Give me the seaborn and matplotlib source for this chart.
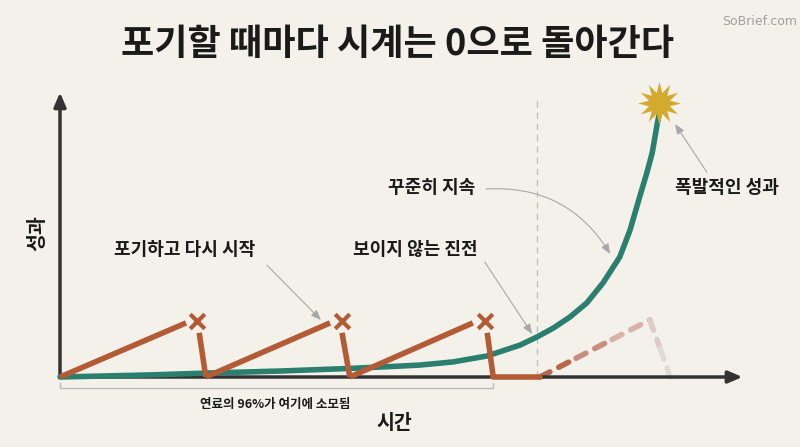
import numpy as np
import pandas as pd
import seaborn as sns
import matplotlib.pyplot as plt

# data (time units on x, performance units on y)
steady_t = [0, 1.5, 2.42, 3.67, 4.83, 5.67, 6.0, 6.55, 7.12, 7.67, 7.95, 8.22, 8.5, 8.78,
            9.05, 9.33, 9.5, 9.67, 9.78, 9.87, 9.95, 9.98]
steady_p = [0, 0.8, 1.5, 2.3, 3.3, 4.2, 4.6, 5.8, 8.1, 12.3, 15.4, 18.8, 23.1, 28.5,
            36.2, 46.2, 56.5, 70, 78.5, 86.2, 96.9, 100.5]

rise_t = [[0, 2.1], [2.43, 4.5], [4.83, 6.88]]
rise_p = [[0, 20.8], [0, 20.8], [0, 20.8]]
quit_t = [2.28, 4.7, 7.08]
quit_p = [21.5, 21.5, 21.5]
drop_t = [[2.32, 2.43], [4.7, 4.83], [7.12, 7.22]]
drop_p = [[17, 0], [17, 0], [17, 0]]
flat_t = [7.22, 8.0]
flat_p = [0, 0]
ghost_t = [8.0, 9.83, 10.17]
ghost_p = [0, 22, 0]

star_t, star_p = 9.98, 105.5
breakpoint_t = 7.95
fuel_end_t = 7.22

title = "포기할 때마다 시계는 0으로 돌아간다"
bg = "#F3F1EA"
green = "#2A7F6F"
orange = "#B35B35"
ink = "#1A1A1A"

sns.set_theme(style="white")
plt.rcParams["font.family"] = ["Noto Sans CJK KR", "DejaVu Sans"]

fig = plt.figure(figsize=(8, 4.47), dpi=100, facecolor=bg)
ax = fig.add_axes([0, 0, 1, 1])
ax.set_facecolor(bg)
ax.set_xlim(-1, 12.333)
ax.set_ylim(-26.92, 145)
ax.axis("off")

# axes with arrows
ax.annotate("", xy=(0, 110.5), xytext=(0, -0.3),
            arrowprops=dict(arrowstyle="-|>,head_length=0.7,head_width=0.3", color="#333333", lw=2.5))
ax.annotate("", xy=(11.42, 0), xytext=(-0.03, 0),
            arrowprops=dict(arrowstyle="-|>,head_length=0.7,head_width=0.3", color="#333333", lw=2.5))

# dashed divider
ax.plot([breakpoint_t, breakpoint_t], [0, 108], ls=(0, (5, 4)), color="#BDBDBD", lw=0.9, zorder=1)

# steady curve
sns.lineplot(x=steady_t, y=steady_p, sort=False, color=green, lw=4, ax=ax, zorder=3,
             solid_capstyle="round", solid_joinstyle="round")

# restart attempts
for t, p in zip(rise_t, rise_p):
    sns.lineplot(x=t, y=p, sort=False, color=orange, lw=4, ax=ax, zorder=4, solid_capstyle="butt")
for t, p in zip(drop_t, drop_p):
    sns.lineplot(x=t, y=p, sort=False, color=orange, lw=4, ax=ax, zorder=4, solid_capstyle="butt")
ax.scatter(quit_t, quit_p, marker="x", s=110, linewidths=3, color=orange, zorder=5)
sns.lineplot(x=flat_t, y=flat_p, sort=False, color=orange, lw=4, ax=ax, zorder=4)

# ghost attempt, fading
ghost_cols = ["#B7684A", "#C88E7E", "#D9B3AA", "#DCCBC6", "#E2DAD6"]
seg_t = [ghost_t[0], 8.6, 9.2, 9.83, 10.0, ghost_t[2]]
seg_p = [ghost_p[0], 7.2, 14.4, ghost_p[1], 11, ghost_p[2]]
for i in range(5):
    ax.plot(seg_t[i:i + 2], seg_p[i:i + 2], ls=(0, (2, 1.8)), color=ghost_cols[i], lw=4,
            dash_capstyle="round", zorder=2)

# star
ax.plot([star_t], [star_p], marker=(12, 1, 0), markersize=31, color="#D4AA2E", zorder=6, mew=0)

# fuel bracket
ax.plot([0, 0, fuel_end_t, fuel_end_t], [-2.3, -4.4, -4.4, -2.3], color="#BBBBBB", lw=1)
ax.text(fuel_end_t / 2 - 0.03, -10.4, "연료의 96%가 여기에 소모됨", ha="center", va="center",
        fontsize=9, fontweight="bold", color=ink)

# axis labels
ax.text(5.58, -17.9, "시간", ha="center", va="center", fontsize=14, fontweight="bold", color=ink)
ax.text(-0.37, 55.4, "성과", ha="center", va="center", rotation=90, fontsize=14,
        fontweight="bold", color=ink)

# annotations
arrow_kw = dict(arrowstyle="-|>,head_length=0.5,head_width=0.2", color="#A8A8A8", lw=0.8)
ax.text(2.08, 49.2, "포기하고 다시 시작", ha="center", va="center",
        fontsize=13, fontweight="bold", color=ink)
ax.annotate("", xy=(4.35, 21.9), xytext=(3.45, 43),
            arrowprops=dict(**arrow_kw, shrinkA=0, shrinkB=0))
ax.text(5.92, 49.2, "보이지 않는 진전", ha="center", va="center",
        fontsize=13, fontweight="bold", color=ink)
ax.annotate("", xy=(7.87, 16.5), xytext=(7.08, 44.2),
            arrowprops=dict(**arrow_kw, shrinkA=0, shrinkB=0))
ax.text(6.2, 72.7, "꾸준히 지속", ha="center", va="center", fontsize=13, fontweight="bold", color=ink)
ax.annotate("", xy=(9.17, 47.3), xytext=(7.1, 72.3),
            arrowprops=dict(**arrow_kw, shrinkA=0, shrinkB=0, connectionstyle="arc3,rad=-0.3"))
ax.text(11.12, 72.7, "폭발적인 성과", ha="center", va="center", fontsize=13, fontweight="bold", color=ink)
ax.annotate("", xy=(10.25, 97.3), xytext=(10.78, 78.8),
            arrowprops=dict(**arrow_kw, shrinkA=0, shrinkB=0))

# title and watermark
fig.text(0.4975, 0.9, title, ha="center", va="center", fontsize=26, fontweight="bold", color=ink)
fig.text(0.95, 0.952, "SoBrief.com", ha="center", va="center", fontsize=9, color="#A0A0A0",
         family=["Liberation Sans Narrow", "DejaVu Sans"])

fig.savefig("out.png", dpi=100, facecolor=bg)
